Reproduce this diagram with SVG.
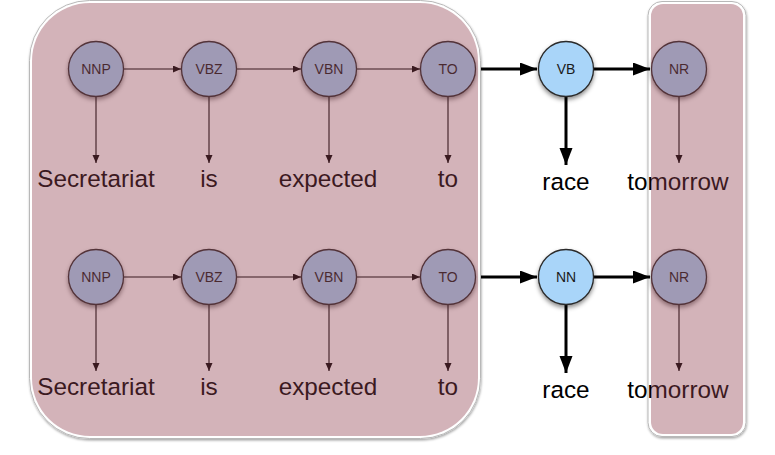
<svg xmlns="http://www.w3.org/2000/svg" width="775" height="455" viewBox="0 0 775 455">
<defs>
<style>
.frame{fill:#fff;stroke:#b8b8b8;stroke-width:1;filter:url(#fsh)}
.overlay{fill:rgb(145,65,80);fill-opacity:0.4}
.node circle{fill:#a9d5f9;stroke:#2a2a2a;stroke-width:1.3;filter:url(#nsh)}
.node text{font-family:"Liberation Sans",Arial,sans-serif;font-size:14px;fill:#1a1a1a;text-anchor:middle}
.word{font-family:"Liberation Sans",Arial,sans-serif;font-size:24.3px;fill:#000;text-anchor:middle}
.thin{stroke:#000;stroke-width:1.1;fill:none;marker-end:url(#ah)}
.thick{stroke:#000;stroke-width:3;fill:none;marker-end:url(#AH)}
</style>
<marker id="ah" markerUnits="userSpaceOnUse" markerWidth="8" markerHeight="8" refX="8" refY="3.5" orient="auto"><path d="M0,0 L8,3.5 L0,7 z" fill="#000"/></marker>
<marker id="AH" markerUnits="userSpaceOnUse" markerWidth="18" markerHeight="14" refX="17" refY="6.5" orient="auto"><path d="M0,0 L17,6.5 L0,13 z" fill="#000"/></marker>
<filter id="nsh" x="-30%" y="-30%" width="160%" height="170%"><feDropShadow dx="0" dy="2.5" stdDeviation="2" flood-color="#000" flood-opacity="0.45"/></filter>
<filter id="fsh" x="-5%" y="-5%" width="110%" height="110%"><feDropShadow dx="0.5" dy="1.5" stdDeviation="1" flood-color="#000" flood-opacity="0.35"/></filter>
</defs>
<g id="frames">
<rect class="frame" x="29.5" y="0.5" width="451" height="438" rx="60"/>
<rect class="frame" x="648" y="1.5" width="98" height="435" rx="14"/>
</g>
<g id="connectors">
<line class="thin" x1="124" y1="69" x2="181" y2="69"/>
<line class="thin" x1="237" y1="69" x2="301" y2="69"/>
<line class="thin" x1="357" y1="69" x2="420" y2="69"/>
<line class="thick" x1="481" y1="69" x2="537" y2="69"/>
<line class="thick" x1="594" y1="69" x2="650" y2="69"/>
<line class="thin" x1="96" y1="97" x2="96" y2="163"/>
<line class="thin" x1="209" y1="97" x2="209" y2="163"/>
<line class="thin" x1="329" y1="97" x2="329" y2="163"/>
<line class="thin" x1="448" y1="97" x2="448" y2="163"/>
<line class="thick" x1="566" y1="97" x2="566" y2="165"/>
<line class="thin" x1="679" y1="97" x2="679" y2="163"/>
<line class="thin" x1="124" y1="277" x2="181" y2="277"/>
<line class="thin" x1="237" y1="277" x2="301" y2="277"/>
<line class="thin" x1="357" y1="277" x2="420" y2="277"/>
<line class="thick" x1="481" y1="277" x2="537" y2="277"/>
<line class="thick" x1="594" y1="277" x2="650" y2="277"/>
<line class="thin" x1="96" y1="305" x2="96" y2="371"/>
<line class="thin" x1="209" y1="305" x2="209" y2="371"/>
<line class="thin" x1="329" y1="305" x2="329" y2="371"/>
<line class="thin" x1="448" y1="305" x2="448" y2="371"/>
<line class="thick" x1="566" y1="305" x2="566" y2="373"/>
<line class="thin" x1="679" y1="305" x2="679" y2="371"/>
</g>
<g id="n1-nnp" class="node"><circle cx="96" cy="69" r="27.5"/><text x="96" y="74">NNP</text></g>
<g id="n1-vbz" class="node"><circle cx="209" cy="69" r="27.5"/><text x="209" y="74">VBZ</text></g>
<g id="n1-vbn" class="node"><circle cx="329" cy="69" r="27.5"/><text x="329" y="74">VBN</text></g>
<g id="n1-to" class="node"><circle cx="448" cy="69" r="27.5"/><text x="448" y="74">TO</text></g>
<g id="n1-vb" class="node"><circle cx="566" cy="69" r="27.5"/><text x="566" y="74">VB</text></g>
<g id="n1-nr" class="node"><circle cx="679" cy="69" r="27.5"/><text x="679" y="74">NR</text></g>
<g id="n2-nnp" class="node"><circle cx="96" cy="277" r="27.5"/><text x="96" y="282">NNP</text></g>
<g id="n2-vbz" class="node"><circle cx="209" cy="277" r="27.5"/><text x="209" y="282">VBZ</text></g>
<g id="n2-vbn" class="node"><circle cx="329" cy="277" r="27.5"/><text x="329" y="282">VBN</text></g>
<g id="n2-to" class="node"><circle cx="448" cy="277" r="27.5"/><text x="448" y="282">TO</text></g>
<g id="n2-nn" class="node"><circle cx="566" cy="277" r="27.5"/><text x="566" y="282">NN</text></g>
<g id="n2-nr" class="node"><circle cx="679" cy="277" r="27.5"/><text x="679" y="282">NR</text></g>
<g id="words">
<text class="word" x="96" y="187">Secretariat</text>
<text class="word" x="209" y="187">is</text>
<text class="word" x="328" y="187">expected</text>
<text class="word" x="448" y="187">to</text>
<text class="word" x="566" y="190">race</text>
<text class="word" x="678" y="190">tomorrow</text>
<text class="word" x="96" y="395">Secretariat</text>
<text class="word" x="209" y="395">is</text>
<text class="word" x="328" y="395">expected</text>
<text class="word" x="448" y="395">to</text>
<text class="word" x="566" y="398">race</text>
<text class="word" x="678" y="398">tomorrow</text>
</g>
<g id="overlays">
<rect class="overlay" x="32" y="3" width="446" height="433" rx="58"/>
<rect class="overlay" x="651" y="4" width="92" height="430" rx="12"/>
</g>
</svg>
